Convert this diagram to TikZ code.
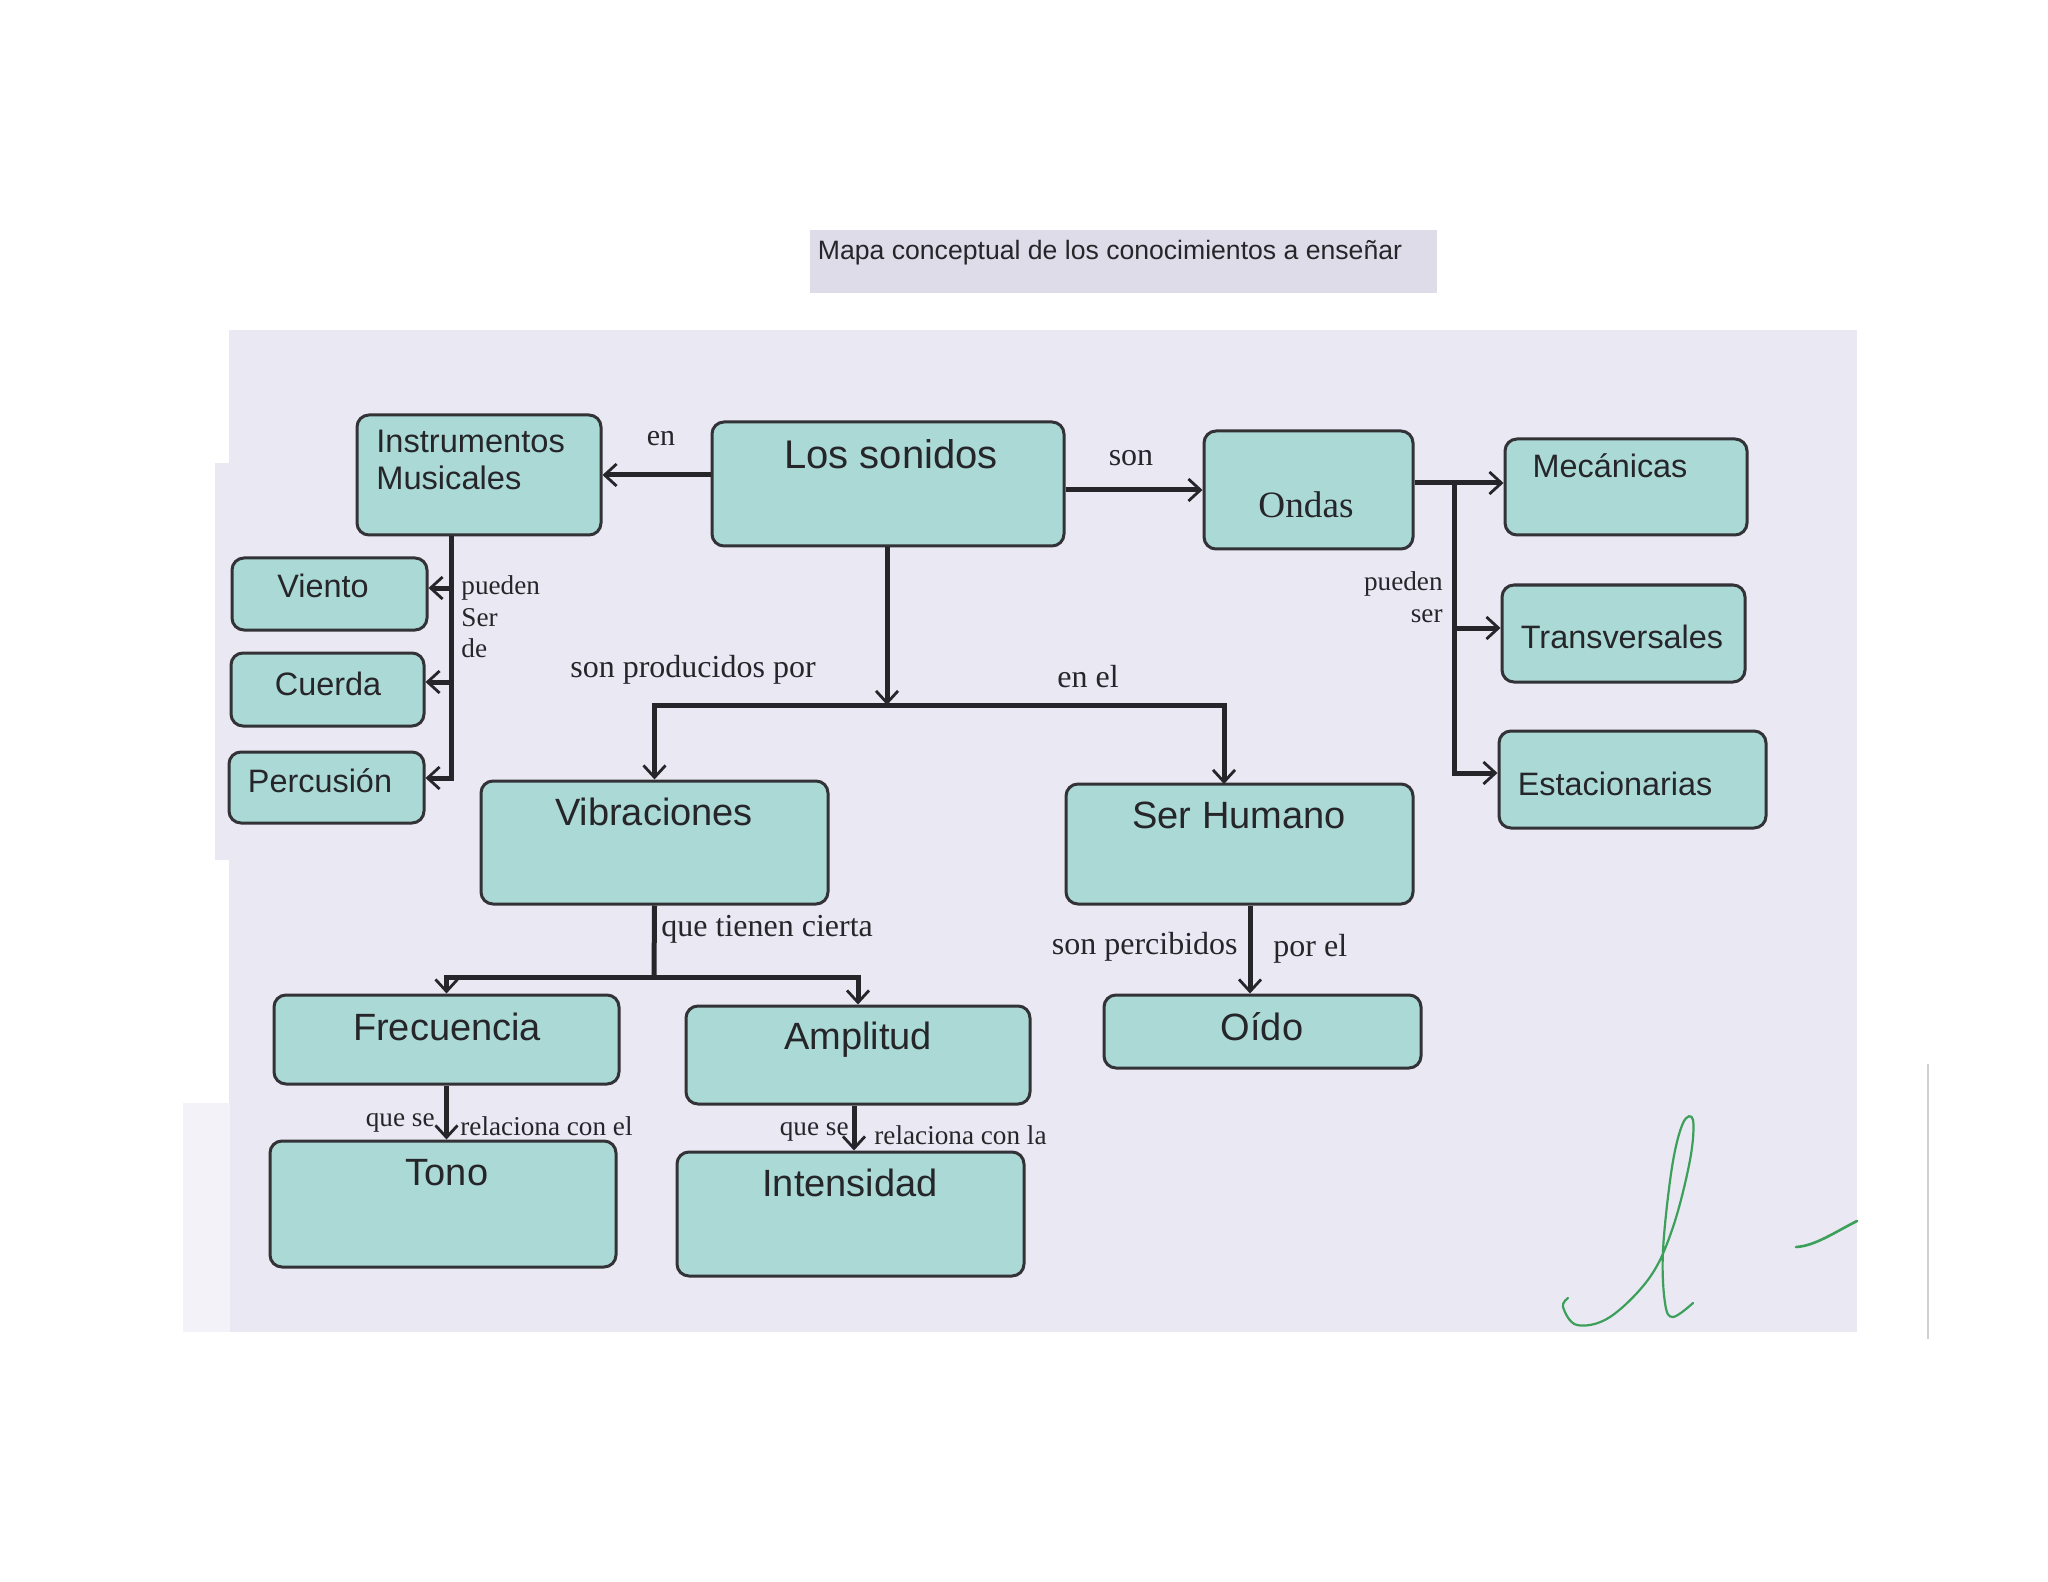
\documentclass[tikz,border=0pt]{standalone}
\usepackage{fontspec}
\setmainfont{Liberation Serif}
\newfontfamily\sansf{Liberation Sans}
\usetikzlibrary{arrows.meta,fit}
\definecolor{boxfill}{RGB}{170,217,214}
\definecolor{boxline}{RGB}{50,50,55}
\definecolor{paper}{RGB}{233,232,243}
\definecolor{paperlight}{RGB}{242,242,248}
\definecolor{titlebg}{RGB}{221,220,232}
\definecolor{ink}{RGB}{38,38,42}
\definecolor{sig}{RGB}{60,160,90}
\tikzset{
  box/.style={draw=boxline, line width=1.5pt, fill=boxfill, rounded corners=6pt, inner sep=0pt},
  bt/.style={font=\sansf\fontsize{19}{21}\selectfont, text=ink, inner sep=0pt},
  bts/.style={font=\sansf\fontsize{16.2}{18.5}\selectfont, text=ink, inner sep=0pt},
  lbl/.style={font=\fontsize{16}{16}\selectfont, text=ink, inner sep=0pt},
  lbs/.style={font=\fontsize{13.6}{15.8}\selectfont, text=ink, inner sep=0pt},
  conn/.style={draw=ink, line width=2.5pt},
  arr/.style={conn, -{Straight Barb[length=6pt,width=11pt,line width=1.4pt]}}
}
\begin{document}
\begin{tikzpicture}[x=0.5pt,y=-0.5pt]
\fill[white] (0,0) rectangle (2048,1582);
\useasboundingbox (0,0) rectangle (2048,1582);
% paper background
\fill[paper] (229,330) rectangle (1857,1332);
\fill[paper] (215,463) rectangle (230,860);
\fill[paperlight] (183,1103) rectangle (230,1332);
\draw[gray!35, line width=0.6pt] (1928,1064) -- (1928,1339);
% title
\node[fill=titlebg, inner sep=0pt, fit={(810,230) (1437,293)}] (tb) {};
\node[font=\sansf\fontsize{13.3}{15}\selectfont, text=ink, inner sep=0pt] (tt) at (1110,253) {Mapa conceptual de los conocimientos a enseñar};
% boxes
\node[box, fit={(357,415) (601,535)}] (im) {};
\node[box, fit={(712,422) (1064,546)}] (ls) {};
\node[box, fit={(1204,431) (1413,549)}] (on) {};
\node[box, fit={(1505,439) (1747,535)}] (me) {};
\node[box, fit={(1502,585) (1745,682)}] (tr) {};
\node[box, fit={(1499,731) (1766,828)}] (es) {};
\node[box, fit={(232,558) (427,630)}] (vi) {};
\node[box, fit={(231,653) (424,726)}] (cu) {};
\node[box, fit={(229,752) (424,823)}] (pe) {};
\node[box, fit={(481,781) (828,904)}] (vb) {};
\node[box, fit={(1066,784) (1413,904)}] (sh) {};
\node[box, fit={(274,995) (619,1084)}] (fr) {};
\node[box, fit={(686,1006) (1030,1104)}] (am) {};
\node[box, fit={(1104,995) (1421,1068)}] (od) {};
\node[box, fit={(270,1141) (616,1267)}] (to) {};
\node[box, fit={(677,1152) (1024,1276)}] (in) {};
% box texts
\node[bts, anchor=west, align=left, font=\sansf\fontsize{16.3}{18.5}\selectfont] (im-t) at (376,460) {Instrumentos\\Musicales};
\node[bt, font=\sansf\fontsize{20}{22}\selectfont] (ls-t) at (891,454) {Los sonidos};
\node[text=ink, inner sep=0pt, font=\fontsize{18.6}{20}\selectfont] (on-t) at (1306,505) {Ondas};
\node[bts] (me-t) at (1610,466) {Mecánicas};
\node[bts] (tr-t) at (1622,637) {Transversales};
\node[bts] (es-t) at (1615,784) {Estacionarias};
\node[bts] (vi-t) at (323,586) {Viento};
\node[bts] (cu-t) at (328,684) {Cuerda};
\node[bts] (pe-t) at (320,781) {Percusión};
\node[bt] (vb-t) at (654,812) {Vibraciones};
\node[bt] (sh-t) at (1239,815) {Ser Humano};
\node[bt] (fr-t) at (447,1027) {Frecuencia};
\node[bt] (am-t) at (858,1040) {Amplitud};
\node[bt] (od-t) at (1262,1027) {Oído};
\node[bt] (to-t) at (447,1173) {Tono};
\node[bt] (in-t) at (850,1183) {Intensidad};
% connectors
\draw[arr] (ls.west |- im.east) -- (im.east);
\draw[arr] (ls.east |- on.west) -- (on.west);
\coordinate (j1) at (887,705);
\coordinate (j2) at (1224,784);
\draw[arr] (ls.south -| j1) -- (j1);
\draw[arr] (j1) -| (vb.north);
\draw[arr] (j1) -| (j2);
% instrumentos trunk
\coordinate (t1) at (451,588);
\coordinate (t2) at (451,682);
\coordinate (t3) at (451,778);
\draw[arr] (im.south -| t3) -- (t3) -- (t3 -| pe.east);
\draw[arr] (t1) -- (t1 -| vi.east);
\draw[arr] (t2) -- (t2 -| cu.east);
% ondas trunk
\coordinate (o0) at (1454,483);
\coordinate (o1) at (1454,628);
\coordinate (o2) at (1454,773);
\draw[arr] (on.east |- o0) -- (o0 -| me.west);
\draw[arr] (o0) -- (o2) -- (o2 -| es.west);
\draw[arr] (o1) -- (o1 -| tr.west);
% vibraciones
\coordinate (v0) at (654,977);
\draw[conn] (vb.south) -- (v0);
\draw[arr] (v0) -| (fr.north);
\draw[arr] (v0) -| (am.north);
% ser humano -> oido
\coordinate (s0) at (1250,0);
\draw[arr] (sh.south -| s0) -- (od.north -| s0);
% frecuencia -> tono, amplitud -> intensidad
\draw[arr] (fr.south) -- (fr.south |- to.north);
\coordinate (a0) at (854,0);
\draw[arr] (am.south -| a0) -- (in.north -| a0);
% labels
\node[lbl, font=\fontsize{15}{15}\selectfont] (l-en) at (661,439) {en};
\node[lbl] (l-son) at (1131,458) {son};
\node[lbl] (l-prod) at (693,670) {son producidos por};
\node[lbl] (l-enel) at (1088,677) {en el};
\node[lbs, anchor=west, align=left] (l-pse) at (461,617) {pueden\\Ser\\de};
\node[lbs, anchor=east, align=right] (l-ps) at (1443,597) {pueden\\ser};
\node[lbl, anchor=west] (l-qtc) at (661,929) {que tienen cierta};
\node[lbl, anchor=east] (l-perc) at (1238,947) {son percibidos};
\node[lbl, anchor=west] (l-porel) at (1273,949) {por el};
\node[lbs, anchor=east] (l-qs1) at (435,1123) {que se};
\node[lbs, anchor=west] (l-rel1) at (460,1126) {relaciona con el};
\node[lbs, anchor=east] (l-qs2) at (849,1132) {que se};
\node[lbs, anchor=west] (l-rel2) at (874,1135) {relaciona con la};
% signature
\draw[sig, line width=1.1pt, line cap=round] plot[smooth, tension=0.6] coordinates {(1568,1298) (1563,1307) (1577,1325) (1610,1317) (1650,1277) (1673,1227) (1690,1160) (1693,1120) (1683,1123) (1672,1167) (1663,1250) (1665,1303) (1673,1317) (1693,1303)};
\draw[sig, line width=1.3pt, line cap=round] (1796,1247) .. controls (1815,1246) and (1835,1232) .. (1857,1221);
\end{tikzpicture}
\end{document}
